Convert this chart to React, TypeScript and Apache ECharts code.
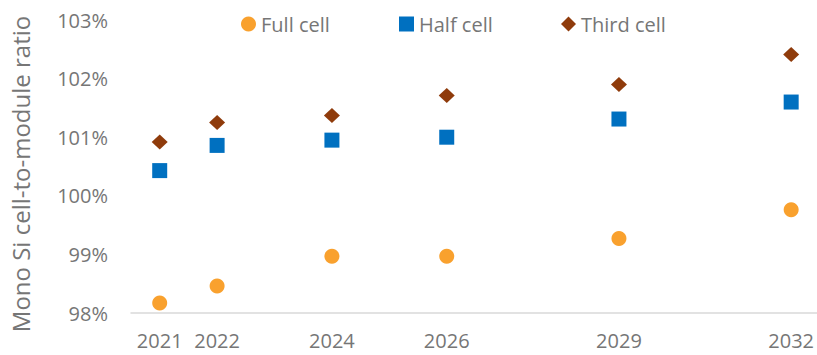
import React, { useEffect, useRef } from "react";
import * as echarts from "echarts";

const years = [2021, 2022, 2024, 2026, 2029, 2032];
const fullCell = [98.17, 98.46, 98.97, 98.97, 99.27, 99.76];
const halfCell = [100.43, 100.86, 100.95, 101.0, 101.31, 101.6];
const thirdCell = [100.92, 101.25, 101.37, 101.71, 101.9, 102.41];

const TEXT = "#767676";
const FONT = "'Open Sans', 'Noto Sans', sans-serif";

const pairs = (vals: number[]) => years.map((y, i) => [y, vals[i]]);

const legendItem = (name: string, icon: string, left: number) => ({
  left,
  top: 9,
  itemWidth: 15,
  itemHeight: 15,
  itemGap: 5,
  textStyle: { color: TEXT, fontSize: 20, fontFamily: FONT },
  data: [{ name, icon }],
});

export default function App() {
  const ref = useRef<HTMLDivElement>(null);

  useEffect(() => {
    document.body.style.margin = "0";
    if (!ref.current) return;
    const chart = echarts.init(ref.current, undefined, { renderer: "svg" });
    chart.setOption({
      animation: false,
      textStyle: { fontFamily: FONT },
      legend: [
        legendItem("Full cell", "circle", 236),
        legendItem("Half cell", "rect", 394),
        legendItem("Third cell", "diamond", 556),
      ],
      graphic: [
        {
          type: "text",
          x: 20,
          y: 174,
          rotation: Math.PI / 2,
          style: {
            text: "Mono Si cell-to-module ratio",
            fill: TEXT,
            fontSize: 24,
            fontFamily: FONT,
            textAlign: "center",
            textVerticalAlign: "middle",
          },
        },
      ],
      grid: { left: 131, right: 0, top: 20, bottom: 42, outerBoundsMode: "none" },
      xAxis: {
        type: "value",
        min: 2020.5,
        max: 2032.45,
        splitLine: { show: false },
        axisLine: { show: true, lineStyle: { color: "#d9d9d9", width: 1.5 } },
        axisTick: { show: false },
        axisLabel: {
          customValues: years,
          color: TEXT,
          fontSize: 20,
          margin: 17,
          fontFamily: FONT,
          formatter: (v: number) => String(v),
        },
      },
      yAxis: {
        type: "value",
        min: 98,
        max: 103,
        interval: 1,
        splitLine: { show: false },
        axisLine: { show: false },
        axisTick: { show: false },
        axisLabel: {
          color: TEXT,
          fontSize: 20,
          margin: 23,
          fontFamily: FONT,
          formatter: (v: number) => `${v}%`,
        },
      },
      series: [
        {
          name: "Full cell",
          type: "scatter",
          symbol: "circle",
          symbolSize: 15,
          itemStyle: { color: "#F9A12E", opacity: 1 },
          data: pairs(fullCell),
        },
        {
          name: "Half cell",
          type: "scatter",
          symbol: "rect",
          symbolSize: 15,
          itemStyle: { color: "#0070C0", opacity: 1 },
          data: pairs(halfCell),
        },
        {
          name: "Third cell",
          type: "scatter",
          symbol: "diamond",
          symbolSize: [16, 15],
          itemStyle: { color: "#8F3B0B", opacity: 1 },
          data: pairs(thirdCell),
        },
      ],
    });
    return () => chart.dispose();
  }, []);

  return <div ref={ref} style={{ width: 817, height: 355 }} />;
}
